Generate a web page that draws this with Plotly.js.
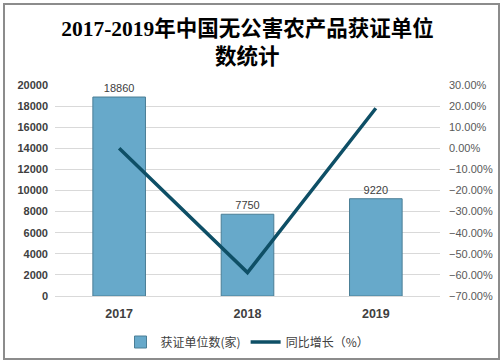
<!DOCTYPE html>
<html><head><meta charset="utf-8">
<script src="https://cdn.plot.ly/plotly-3.0.1.min.js"></script>
<style>
body{margin:0;padding:0;background:#fff;}
#wrap{position:relative;width:503px;height:364px;}
#chart{width:503px;height:364px;}
#frame{position:absolute;left:3px;top:3px;width:493px;height:353px;border:2px solid #8c8c8c;pointer-events:none;}
</style>
</head><body>
<div id="wrap"><div id="chart"></div><div id="frame"></div></div>
<script>
var years = ['2017', '2018', '2019'];
var units = [18860, 7750, 9220];
var growth = [0.0, -0.589, 0.1897];
var barName = '获证单位数(家)';
var lineName = '同比增长（%）';
var titleLine1 = '2017-2019年中国无公害农产品获证单位';
var titleLine2 = '数统计';

var titleFont = {family: 'Liberation Serif, Noto Sans CJK SC, serif', size: 21.5, color: '#000', weight: 'bold'};

var bar = {
  type: 'bar', x: years, y: units, name: barName,
  marker: {color: '#67a9ca', line: {color: '#4b7e96', width: 1}},
  width: 0.41,
  text: units.map(String), textposition: 'outside', cliponaxis: false,
  textfont: {family: 'Liberation Sans, Arial, sans-serif', size: 11, color: '#404040'},
  hoverinfo: 'none'
};
var line = {
  type: 'scatter', mode: 'lines', x: years, y: growth, name: lineName, yaxis: 'y2',
  line: {color: '#0e4f66', width: 3.5}, hoverinfo: 'none'
};
var layout = {
  width: 503, height: 364,
  margin: {l: 55, r: 63, t: 85, b: 68, autoexpand: false},
  paper_bgcolor: '#fff', plot_bgcolor: '#fff',
  showlegend: true,
  title: {text: titleLine1, x: 0.5, xref: 'paper', y: 1 - 28/364, yref: 'container', yanchor: 'middle',
    font: titleFont},
  annotations: [{text: titleLine2, xref: 'paper', x: 0.5, yref: 'paper', y: (296 - 57) / 211, yanchor: 'middle',
    showarrow: false, font: titleFont}],
  bargap: 0.59,
  xaxis: {type: 'category', showgrid: false, zeroline: false, showline: true, linecolor: '#d9d9d9', linewidth: 1,
    ticks: '', ticklabelstandoff: 6, automargin: false,
    tickfont: {family: 'Liberation Sans, Arial, sans-serif', size: 12.5, color: '#404040', weight: 'bold'}},
  yaxis: {range: [0, 20000], dtick: 2000, tick0: 0, tickformat: 'd', showgrid: true, gridcolor: '#d9d9d9', zeroline: false,
    ticks: '', ticklabelstandoff: 6, automargin: false,
    tickfont: {family: 'Liberation Sans, Arial, sans-serif', size: 11, color: '#404040', weight: 'bold'}},
  yaxis2: {overlaying: 'y', side: 'right', range: [-0.7, 0.3], dtick: 0.1, tick0: 0, tickformat: '.2%',
    showgrid: false, zeroline: false, ticks: '', ticklabelstandoff: 8, automargin: false,
    tickfont: {family: 'Liberation Sans, Arial, sans-serif', size: 11, color: '#595959'}},
  legend: {orientation: 'h', x: 0.5, xanchor: 'center', yref: 'container', y: 1 - 342/364, yanchor: 'middle',
    font: {family: 'Noto Sans CJK SC, sans-serif', size: 12, color: '#404040'}, itemwidth: 30}
};
Plotly.newPlot('chart', [bar, line], layout, {displayModeBar: false, staticPlot: true});
</script>
</body></html>
